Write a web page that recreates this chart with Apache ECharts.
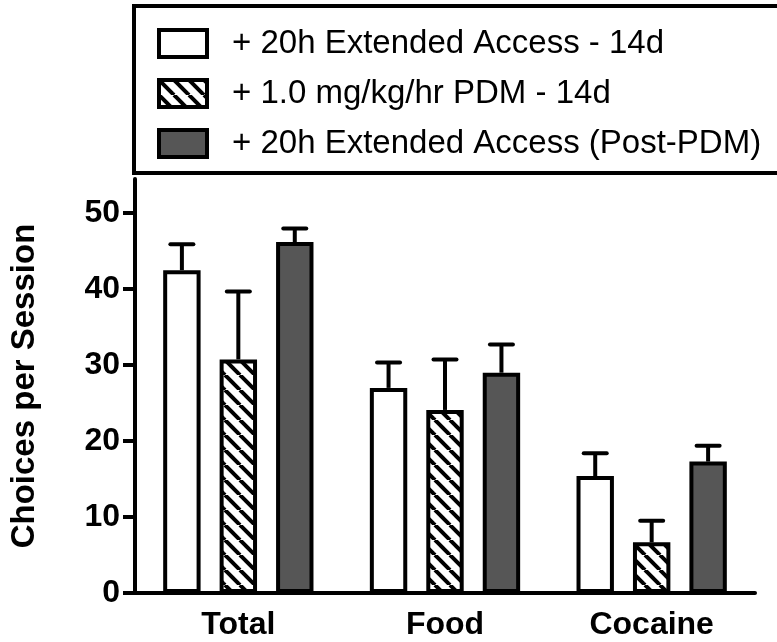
<!DOCTYPE html>
<html>
<head>
<meta charset="utf-8">
<script src="https://cdn.jsdelivr.net/npm/echarts@6/dist/echarts.min.js"></script>
<style>html,body{margin:0;padding:0;background:#fff}#c{width:777px;height:642px}</style>
</head>
<body>
<div id="c"></div>
<script>
const categories = ['Total', 'Food', 'Cocaine'];
const seriesNames = ['+ 20h Extended Access - 14d', '+ 1.0 mg/kg/hr PDM - 14d', '+ 20h Extended Access (Post-PDM)'];
const extendedMeans = [42.5, 27.0, 15.4];
const extendedSEM = [3.4, 3.35, 3.0];
const pdmMeans = [30.75, 24.1, 6.67];
const pdmSEM = [8.95, 6.65, 2.83];
const postMeans = [46.2, 29.0, 17.3];
const postSEM = [1.8, 3.7, 2.1];
const yTicks = [0, 10, 20, 30, 40, 50];

function hatch() {
  const s = 15;
  const c = document.createElement('canvas');
  c.width = s; c.height = s;
  const g = c.getContext('2d');
  g.fillStyle = '#fff'; g.fillRect(0, 0, s, s);
  g.strokeStyle = '#000'; g.lineWidth = 4;
  [[-s, 0, 0, s], [0, 0, s, s], [s, 0, 2 * s, s]].forEach(l => {
    g.beginPath(); g.moveTo(l[0], l[1]); g.lineTo(l[2], l[3]); g.stroke();
  });
  return {image: c, repeat: 'repeat'};
}

const BAR_W = 0.181, GAP = 0.509;
const fills = ['#ffffff', hatch(), '#565656'];
const means = [extendedMeans, pdmMeans, postMeans];
const sems = [extendedSEM, pdmSEM, postSEM];
const FONT = 'Liberation Sans, Arial, sans-serif';

const series = [];
means.forEach((m, i) => {
  series.push({
    name: seriesNames[i], type: 'bar', data: m,
    barWidth: (BAR_W * 100) + '%', barGap: (GAP * 100) + '%',
    itemStyle: {color: fills[i], borderColor: '#000', borderWidth: 4},
    z: 2
  });
});
means.forEach((m, i) => {
  series.push({
    type: 'custom', name: 'err' + i,
    data: m.map((v, k) => [k, v, sems[i][k]]),
    z: 3,
    renderItem: function (params, api) {
      const k = api.value(0), v = api.value(1), e = api.value(2);
      const bandW = api.size([1, 0])[0];
      const bw = bandW * BAR_W;
      const off = (i - 1) * bw * (1 + GAP);
      const p0 = api.coord([k, v]);
      const p1 = api.coord([k, v + e]);
      const x = p0[0] + off;
      const cap = 11.5;
      return {
        type: 'group',
        children: [
          {type: 'line', shape: {x1: x, y1: p0[1], x2: x, y2: p1[1]}, style: {stroke: '#000', lineWidth: 4}},
          {type: 'line', shape: {x1: x - cap, y1: p1[1], x2: x + cap, y2: p1[1]}, style: {stroke: '#000', lineWidth: 4, lineCap: 'round'}}
        ]
      };
    }
  });
});

const chart = echarts.init(document.getElementById('c'), null, {renderer: 'canvas'});
chart.setOption({
  animation: false,
  backgroundColor: '#fff',
  grid: {left: 133, right: 22, top: 179, bottom: 49, containLabel: false},
  legend: {
    data: seriesNames,
    orient: 'vertical',
    left: 152, top: 22,
    itemWidth: 48, itemHeight: 27, itemGap: 17,
    icon: 'rect',
    itemStyle: {borderColor: '#000', borderWidth: 4},
    textStyle: {fontFamily: FONT, fontSize: 33, color: '#000', padding: [0, 0, 0, 20]},
    selectedMode: false
  },
  graphic: [{
    type: 'rect', shape: {x: 134, y: 6, width: 700, height: 167},
    style: {fill: 'none', stroke: '#000', lineWidth: 4}, z: 10
  }],
  xAxis: {
    type: 'category', data: categories,
    axisLine: {lineStyle: {color: '#000', width: 4}},
    axisTick: {alignWithLabel: true, length: 12, lineStyle: {color: '#000', width: 4}},
    axisLabel: {fontFamily: FONT, fontSize: 32, fontWeight: 'bold', color: '#000', margin: 16}
  },
  yAxis: {
    type: 'value', min: 0, max: 54.5, interval: 10,
    name: 'Choices per Session', nameLocation: 'middle', nameGap: 94, nameRotate: 90,
    nameTextStyle: {fontFamily: FONT, fontSize: 33, fontWeight: 'bold', color: '#000'},
    axisLine: {show: true, lineStyle: {color: '#000', width: 4}},
    axisTick: {show: true, length: 12, customValues: yTicks, lineStyle: {color: '#000', width: 4}},
    axisLabel: {fontFamily: FONT, fontSize: 32, fontWeight: 'bold', color: '#000', margin: 15, customValues: yTicks},
    splitLine: {show: false}
  },
  series: series
});
</script>
</body>
</html>
